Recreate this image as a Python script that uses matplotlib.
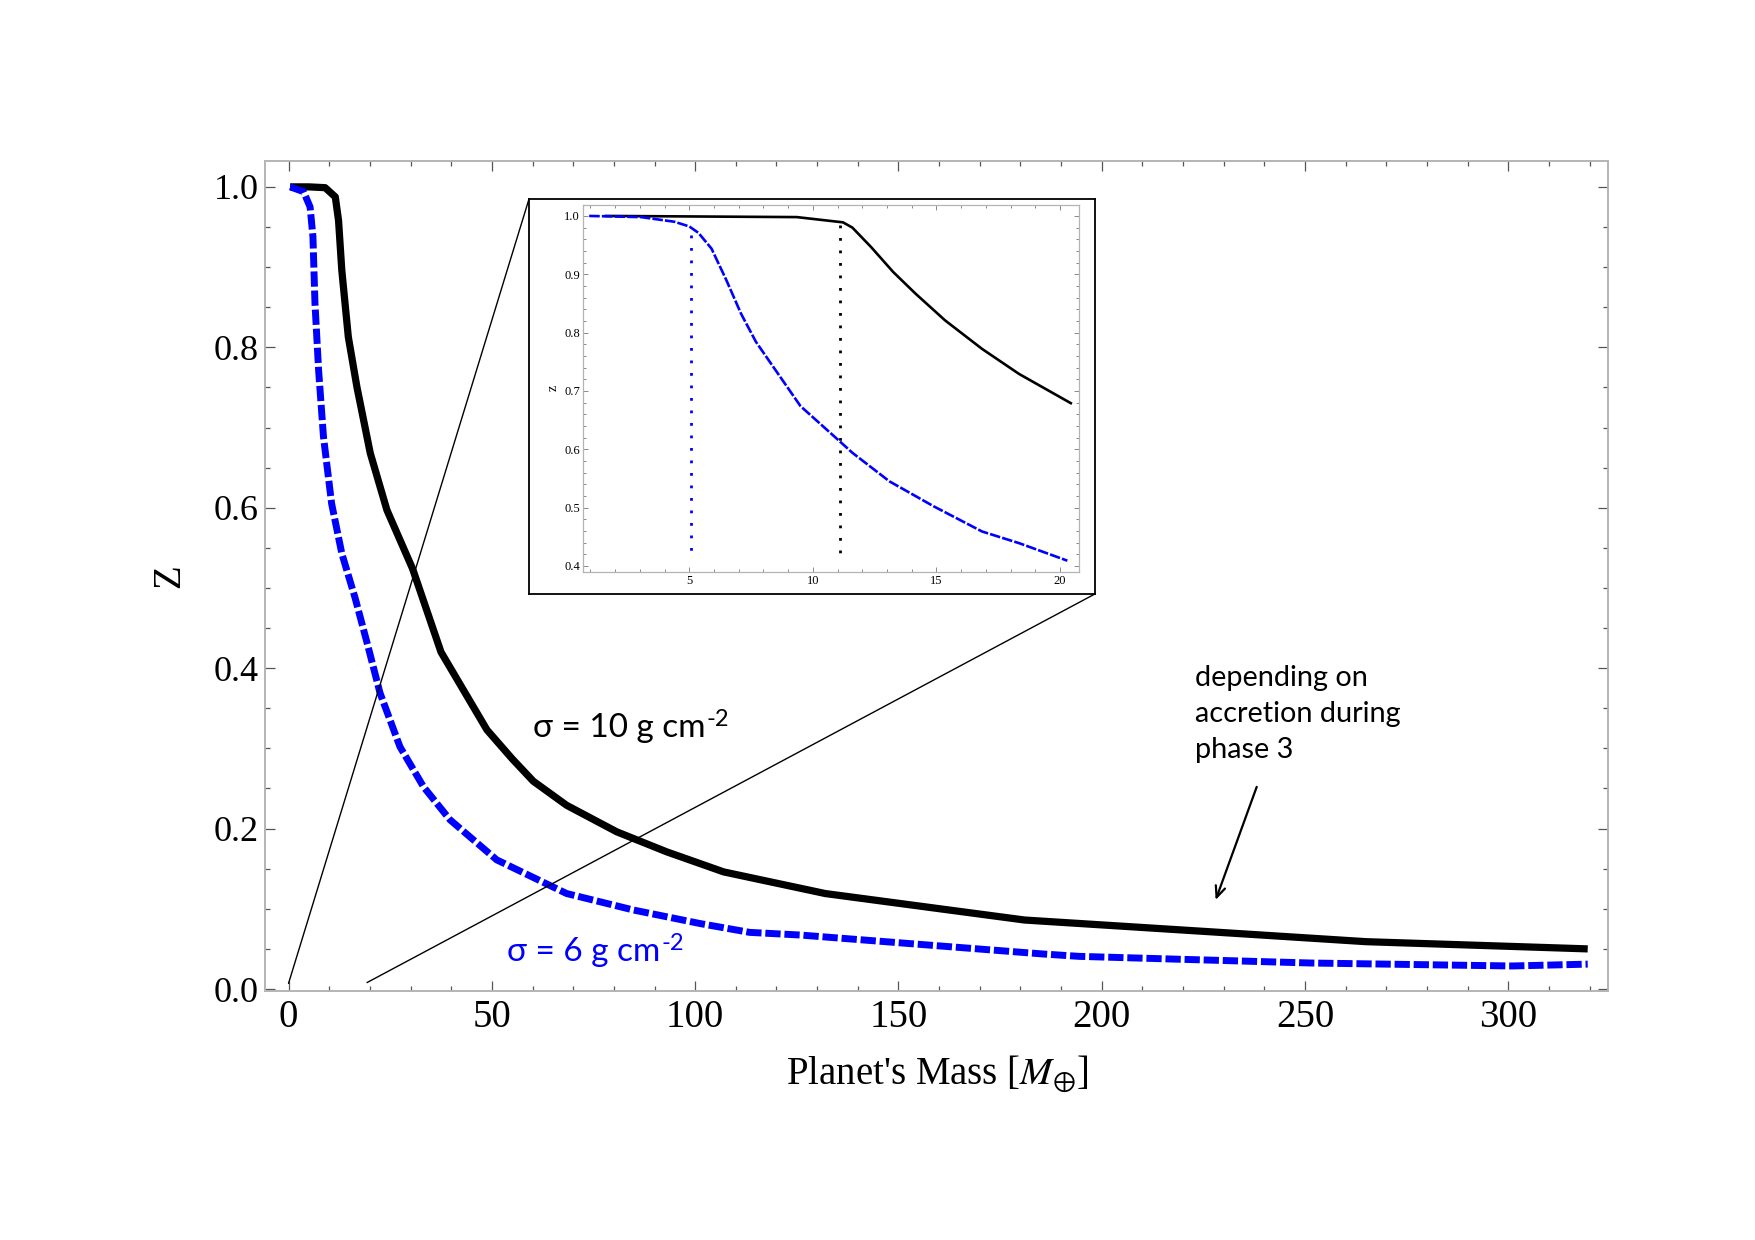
import matplotlib
matplotlib.use('Agg')
import matplotlib.pyplot as plt
from matplotlib.patches import ConnectionPatch
from matplotlib.ticker import MultipleLocator

# ---------------- data ----------------
black_x = [0.4, 5.0, 9.0, 11.5, 12.3, 13.1, 14.7, 16.8, 20.1, 24.2, 30.5, 37.5,
           48.8, 55.0, 60.2, 68.4, 80.7, 93.0, 107.0, 132.0, 181.0, 229.0, 265.0, 319.5]
black_y = [1.0, 1.0, 0.999, 0.9875, 0.958, 0.896, 0.813, 0.751, 0.668, 0.597, 0.524, 0.42,
           0.323, 0.287, 0.259, 0.229, 0.196, 0.171, 0.146, 0.119, 0.086, 0.0706, 0.059, 0.050]

blue_x = [0.4, 3.7, 5.3, 6.0, 6.5, 7.4, 8.6, 10.6, 13.1, 16.4, 19.5, 22.5, 27.4, 33.2,
          39.7, 51.2, 68.4, 84.8, 101.3, 113.4, 125.8, 185.4, 194.4, 251.4, 300.9, 319.5]
blue_y = [1.0, 0.994, 0.975, 0.938, 0.855, 0.771, 0.688, 0.605, 0.543, 0.487, 0.428, 0.369,
          0.302, 0.252, 0.211, 0.161, 0.119, 0.0985, 0.0815, 0.0706, 0.0673, 0.0437, 0.0407,
          0.0324, 0.0287, 0.031]

inset_black_x = [1.63, 9.35, 11.22, 11.6, 12.35, 13.25, 14.15, 15.35, 16.85, 18.35, 20.44]
inset_black_y = [1.0, 0.998, 0.989, 0.980, 0.947, 0.904, 0.867, 0.821, 0.772, 0.729, 0.679]

inset_blue_x = [0.95, 3.05, 4.4, 5.0, 5.37, 5.9, 6.5, 7.1, 7.7, 8.6, 9.5, 11.0, 11.6, 13.1,
                14.9, 16.85, 18.35, 20.3]
inset_blue_y = [1.0, 0.998, 0.99, 0.982, 0.971, 0.944, 0.89, 0.832, 0.784, 0.729, 0.674,
                0.617, 0.594, 0.545, 0.502, 0.459, 0.439, 0.409]

blue_onset_x = [5.05, 5.05]
blue_onset_y = [0.967, 0.422]
black_onset_x = [11.09, 11.09]
black_onset_y = [0.985, 0.422]

main_xticks = [0, 50, 100, 150, 200, 250, 300]
main_yticks = [0.0, 0.2, 0.4, 0.6, 0.8, 1.0]
inset_xticks = [5, 10, 15, 20]
inset_yticks = [0.4, 0.5, 0.6, 0.7, 0.8, 0.9, 1.0]

label_black = "σ = 10 g cm"
label_blue = "σ = 6 g cm"
label_sup = "-2"
note_text = "depending on\naccretion during\nphase 3"

# ---------------- style ----------------
plt.rcParams['font.family'] = ['Liberation Serif', 'DejaVu Serif']
plt.rcParams['mathtext.fontset'] = 'stix'
SANS = ['Lato', 'DejaVu Sans']
BLUE = '#0000ff'
FRAME = '#b4b4b4'
TICKC = '#555555'

fig = plt.figure(figsize=(17.55, 12.40), dpi=100)
fig.patch.set_facecolor('white')

# ---------------- main axes ----------------
ax = fig.add_axes([0.1512, 0.2008, 0.7653, 0.6692])
ax.plot(black_x, black_y, color='black', lw=5.2, solid_joinstyle='round',
        solid_capstyle='butt', zorder=3)
ax.plot(blue_x, blue_y, color=BLUE, lw=5.0, dashes=(2.2, 0.55),
        dash_capstyle='butt', zorder=3)
ax.set_xlim(-5.7, 324.6)
ax.set_ylim(-0.0025, 1.032)
ax.set_xticks(main_xticks)
ax.set_yticks(main_yticks)
ax.set_yticklabels([f"{v:.1f}" for v in main_yticks])
ax.xaxis.set_minor_locator(MultipleLocator(10))
ax.yaxis.set_minor_locator(MultipleLocator(0.05))
ax.tick_params(which='both', direction='in', top=True, right=True, color=TICKC, width=0.9)
ax.tick_params(which='major', length=7)
ax.tick_params(which='minor', length=3.8)
ax.tick_params(axis='x', which='major', labelsize=28, pad=6)
ax.tick_params(axis='y', which='major', labelsize=26, pad=5)
for s in ax.spines.values():
    s.set_color(FRAME)
    s.set_linewidth(1.4)
ax.set_xlabel(r"Planet's Mass [$M_{\oplus}$]", fontsize=28, labelpad=12)
ax.set_ylabel("Z", fontsize=28, labelpad=18)

# curve labels
t1 = ax.text(60.0, 0.325, label_black, fontsize=24, family=SANS, color='black',
             ha='left', va='center')
ax.annotate(label_sup, xy=(1, 1), xycoords=t1, xytext=(1, 3), textcoords='offset points',
            fontsize=17, family=SANS, color='black', ha='left', va='top')
t2 = ax.text(53.7, 0.0465, label_blue, fontsize=24, family=SANS, color=BLUE,
             ha='left', va='center')
ax.annotate(label_sup, xy=(1, 1), xycoords=t2, xytext=(1, 3), textcoords='offset points',
            fontsize=17, family=SANS, color=BLUE, ha='left', va='top')

# note with arrow
ax.text(223.0, 0.343, note_text, fontsize=20.8, family=SANS, color='black',
        ha='left', va='center', linespacing=1.47)
ax.annotate("", xy=(228.0, 0.111), xytext=(238.1, 0.252),
            arrowprops=dict(arrowstyle='->, head_length=0.8, head_width=0.35',
                            lw=1.6, color='black', shrinkA=0, shrinkB=0))

# ---------------- inset ----------------
box = fig.add_axes([0.3014, 0.5210, 0.3225, 0.3184], zorder=5)
box.set_xticks([]); box.set_yticks([])
box.set_facecolor('white')
for s in box.spines.values():
    s.set_color('black')
    s.set_linewidth(1.3)

ins = fig.add_axes([0.3320, 0.5389, 0.2828, 0.2959], zorder=6)
ins.plot(inset_black_x, inset_black_y, color='black', lw=1.9, zorder=3)
ins.plot(inset_blue_x, inset_blue_y, color=BLUE, lw=1.9, dashes=(4, 0.8), zorder=3)
ins.plot(blue_onset_x, blue_onset_y, color=BLUE, lw=2.0, linestyle=(0, (1, 3.5)), zorder=2)
ins.plot(black_onset_x, black_onset_y, color='black', lw=2.0, linestyle=(0, (1, 3.5)), zorder=2)
ins.set_xlim(0.686, 20.77)
ins.set_ylim(0.390, 1.019)
ins.set_xticks(inset_xticks)
ins.set_yticks(inset_yticks)
ins.set_yticklabels([f"{v:.1f}" for v in inset_yticks])
ins.xaxis.set_minor_locator(MultipleLocator(1))
ins.yaxis.set_minor_locator(MultipleLocator(0.02))
ins.tick_params(which='both', direction='in', top=True, right=True, color='#777777',
                width=0.6, labelsize=9, pad=2)
ins.tick_params(which='major', length=3.5)
ins.tick_params(which='minor', length=2)
for s in ins.spines.values():
    s.set_color(FRAME)
    s.set_linewidth(0.9)
ins.set_ylabel("z", fontsize=10, labelpad=3)

# ---------------- zoom connector lines ----------------
con1 = ConnectionPatch(xyA=(0.0, 0.007), coordsA=ax.transData,
                       xyB=(0.0, 1.0), coordsB=box.transAxes,
                       color='black', lw=1.0, zorder=2)
con2 = ConnectionPatch(xyA=(19.3, 0.008), coordsA=ax.transData,
                       xyB=(1.0, 0.0), coordsB=box.transAxes,
                       color='black', lw=1.0, zorder=2)
fig.add_artist(con1)
fig.add_artist(con2)

fig.savefig('out.png', dpi=100, facecolor='white')
